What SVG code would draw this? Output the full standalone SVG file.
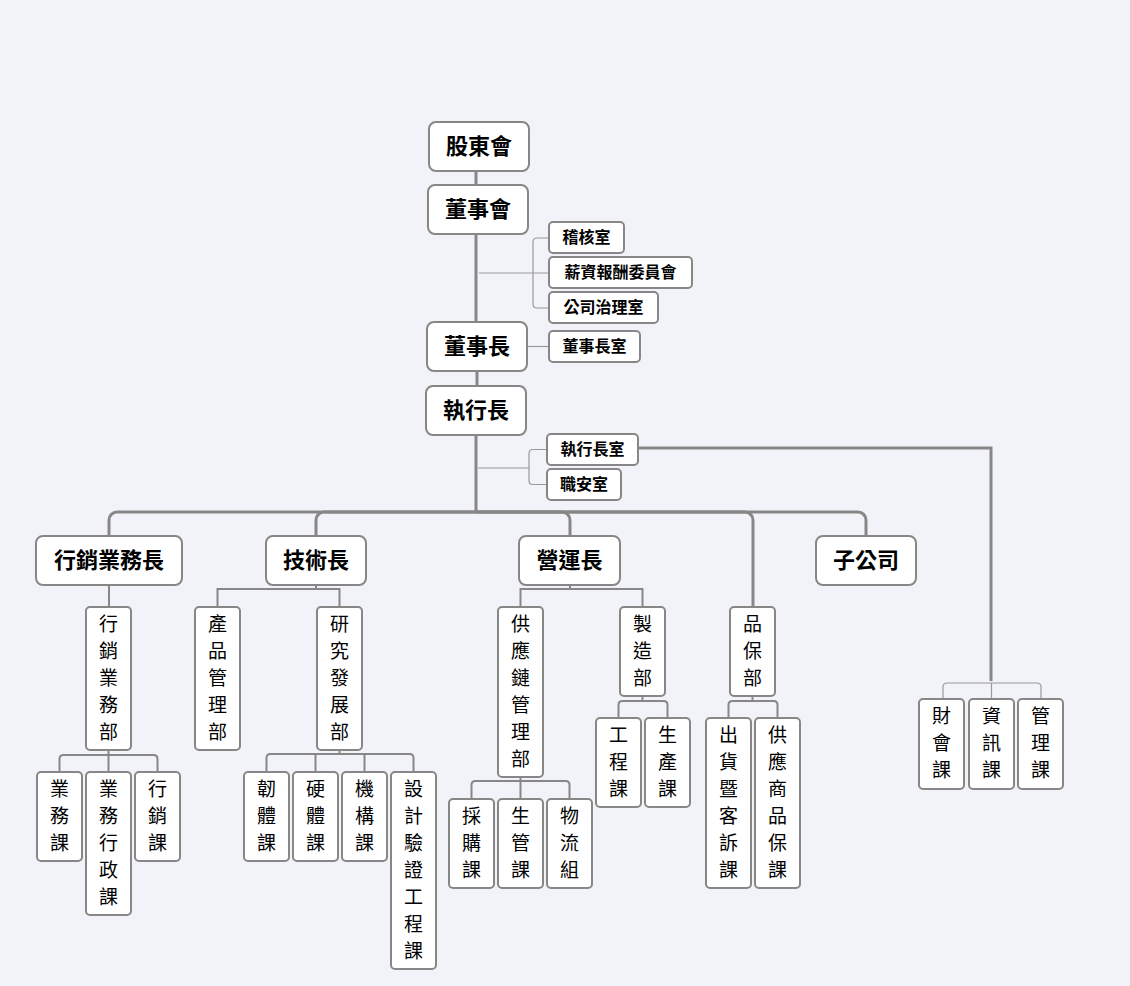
<svg xmlns="http://www.w3.org/2000/svg" width="1130" height="986" viewBox="0 0 1130 986">
<style>
.bg{fill:#f2f3f8}
.box{fill:#fff;stroke:#878787;stroke-width:2}
.t1{font-family:"Noto Sans CJK TC","Noto Sans CJK SC",sans-serif;font-size:22px;font-weight:bold;fill:#000;text-anchor:middle;dominant-baseline:central}
.t2{font-family:"Noto Sans CJK TC","Noto Sans CJK SC",sans-serif;font-size:16px;font-weight:bold;fill:#000;text-anchor:middle;dominant-baseline:central}
.t3{font-family:"Noto Sans CJK TC","Noto Sans CJK SC",sans-serif;font-size:19px;font-weight:normal;fill:#000;text-anchor:middle;dominant-baseline:central}
.thick{fill:none;stroke:#878787;stroke-width:3}
.mid{fill:none;stroke:#878787;stroke-width:2}
.thin{fill:none;stroke:#999;stroke-width:1.2}
</style>
<rect class="bg" x="0" y="0" width="1130" height="986"/>
<g id="connectors">
<path class="thick" d="M476,171 V185"/>
<path class="thick" d="M476,234 V322"/>
<path class="thick" d="M477,371 V386"/>
<path class="thick" d="M476,435 V512"/>
<path class="thick" d="M476,512 H117 A8,8 0 0 0 109,520 V536"/>
<path class="thick" d="M476,512 H324 A8,8 0 0 0 316,520 V536"/>
<path class="thick" d="M476,512 H562 A8,8 0 0 1 570,520 V536"/>
<path class="thick" d="M476,512 H745 A8,8 0 0 1 753,520 V607"/>
<path class="thick" d="M476,512 H858 A8,8 0 0 1 866,520 V536"/>
<path class="thick" d="M638,448 H991 V681"/>
<path class="thin" d="M479,273 H549"/>
<path class="thin" d="M549,238 H537 Q533,238 533,242 V304 Q533,308 537,308 H549"/>
<path class="thin" d="M527,346.5 H549"/>
<path class="thin" d="M478,468 H529"/>
<path class="thin" d="M547,449.5 H533 Q529,449.5 529,453.5 V480.5 Q529,484.5 533,484.5 H547"/>
<path class="thin" d="M943,699 V687 Q943,683 947,683 H1037 Q1041,683 1041,687 V699"/>
<path class="thin" d="M991.5,683 V699"/>
<path class="mid" d="M109,585 V607"/>
<path class="mid" d="M316,585 V589"/>
<path class="mid" d="M217.5,607 V589 H339.5 V607"/>
<path class="mid" d="M570,585 V589"/>
<path class="mid" d="M520.5,607 V589 H642.5 V607"/>
<path class="mid" d="M108.5,750 V772"/>
<path class="mid" d="M59.5,772 V759 Q59.5,755 63.5,755 H153.5 Q157.5,755 157.5,759 V772"/>
<path class="mid" d="M339.5,750 V754"/>
<path class="mid" d="M266.5,772 V758 Q266.5,754 270.5,754 H409.5 Q413.5,754 413.5,758 V772"/>
<path class="mid" d="M315.5,754 V772"/>
<path class="mid" d="M364.5,754 V772"/>
<path class="mid" d="M520.5,777 V799"/>
<path class="mid" d="M471.5,799 V785 Q471.5,781 475.5,781 H565.5 Q569.5,781 569.5,785 V799"/>
<path class="mid" d="M642.5,696 V701"/>
<path class="mid" d="M618.5,718 V705 Q618.5,701 622.5,701 H663.5 Q667.5,701 667.5,705 V718"/>
<path class="mid" d="M752.5,696 V701"/>
<path class="mid" d="M728.5,718 V705 Q728.5,701 732.5,701 H773.5 Q777.5,701 777.5,705 V718"/>
</g>
<g id="n-gudonghui"><rect class="box" x="429" y="122" width="100" height="49" rx="7"/><text class="t1" x="479" y="144">股東會</text></g>
<g id="n-dongshihui"><rect class="box" x="428" y="185" width="100" height="49" rx="7"/><text class="t1" x="478" y="207">董事會</text></g>
<g id="n-dongshizhang"><rect class="box" x="427" y="322" width="100" height="49" rx="7"/><text class="t1" x="477" y="344">董事長</text></g>
<g id="n-zhixingzhang"><rect class="box" x="426" y="386" width="100" height="49" rx="7"/><text class="t1" x="476" y="408">執行長</text></g>
<g id="n-jihe"><rect class="box" x="549" y="222" width="75" height="31" rx="4"/><text class="t2" x="586.5" y="236">稽核室</text></g>
<g id="n-xinchou"><rect class="box" x="549" y="257" width="143" height="31" rx="4"/><text class="t2" x="620.5" y="271">薪資報酬委員會</text></g>
<g id="n-zhili"><rect class="box" x="549" y="292" width="109" height="31" rx="4"/><text class="t2" x="603.5" y="306">公司治理室</text></g>
<g id="n-dszs"><rect class="box" x="549" y="331" width="91" height="31" rx="4"/><text class="t2" x="594.5" y="345">董事長室</text></g>
<g id="n-zxzs"><rect class="box" x="547" y="434" width="91" height="31" rx="4"/><text class="t2" x="592.5" y="448">執行長室</text></g>
<g id="n-zhian"><rect class="box" x="547" y="469" width="74" height="31" rx="4"/><text class="t2" x="584" y="483">職安室</text></g>
<g id="n-xiaoshouzhang"><rect class="box" x="36" y="536" width="146" height="49" rx="7"/><text class="t1" x="109" y="558">行銷業務長</text></g>
<g id="n-jishuzhang"><rect class="box" x="266" y="536" width="100" height="49" rx="7"/><text class="t1" x="316" y="558">技術長</text></g>
<g id="n-yingyunzhang"><rect class="box" x="519" y="536" width="101" height="49" rx="7"/><text class="t1" x="569.5" y="558">營運長</text></g>
<g id="n-zigongsi"><rect class="box" x="816" y="536" width="100" height="49" rx="7"/><text class="t1" x="866" y="558">子公司</text></g>
<g id="n-xsywb"><rect class="box" x="86" y="607" width="45" height="143" rx="4"/><text class="t3"><tspan x="108.5" y="621.5">行</tspan><tspan x="108.5" y="648.5">銷</tspan><tspan x="108.5" y="675.5">業</tspan><tspan x="108.5" y="702.5">務</tspan><tspan x="108.5" y="729.5">部</tspan></text></g>
<g id="n-cpglb"><rect class="box" x="195" y="607" width="45" height="143" rx="4"/><text class="t3"><tspan x="217.5" y="621.5">產</tspan><tspan x="217.5" y="648.5">品</tspan><tspan x="217.5" y="675.5">管</tspan><tspan x="217.5" y="702.5">理</tspan><tspan x="217.5" y="729.5">部</tspan></text></g>
<g id="n-yjfzb"><rect class="box" x="317" y="607" width="45" height="143" rx="4"/><text class="t3"><tspan x="339.5" y="621.5">研</tspan><tspan x="339.5" y="648.5">究</tspan><tspan x="339.5" y="675.5">發</tspan><tspan x="339.5" y="702.5">展</tspan><tspan x="339.5" y="729.5">部</tspan></text></g>
<g id="n-gyl"><rect class="box" x="498" y="607" width="45" height="170" rx="4"/><text class="t3"><tspan x="520.5" y="621.5">供</tspan><tspan x="520.5" y="648.5">應</tspan><tspan x="520.5" y="675.5">鏈</tspan><tspan x="520.5" y="702.5">管</tspan><tspan x="520.5" y="729.5">理</tspan><tspan x="520.5" y="756.5">部</tspan></text></g>
<g id="n-zzb"><rect class="box" x="620" y="607" width="45" height="89" rx="4"/><text class="t3"><tspan x="642.5" y="621.5">製</tspan><tspan x="642.5" y="648.5">造</tspan><tspan x="642.5" y="675.5">部</tspan></text></g>
<g id="n-pbb"><rect class="box" x="730" y="607" width="45" height="89" rx="4"/><text class="t3"><tspan x="752.5" y="621.5">品</tspan><tspan x="752.5" y="648.5">保</tspan><tspan x="752.5" y="675.5">部</tspan></text></g>
<g id="n-ywk"><rect class="box" x="37" y="772" width="45" height="89" rx="4"/><text class="t3"><tspan x="59.5" y="786.5">業</tspan><tspan x="59.5" y="813.5">務</tspan><tspan x="59.5" y="840.5">課</tspan></text></g>
<g id="n-ywxzk"><rect class="box" x="86" y="772" width="45" height="143" rx="4"/><text class="t3"><tspan x="108.5" y="786.5">業</tspan><tspan x="108.5" y="813.5">務</tspan><tspan x="108.5" y="840.5">行</tspan><tspan x="108.5" y="867.5">政</tspan><tspan x="108.5" y="894.5">課</tspan></text></g>
<g id="n-xxk"><rect class="box" x="135" y="772" width="45" height="89" rx="4"/><text class="t3"><tspan x="157.5" y="786.5">行</tspan><tspan x="157.5" y="813.5">銷</tspan><tspan x="157.5" y="840.5">課</tspan></text></g>
<g id="n-rtk"><rect class="box" x="244" y="772" width="45" height="89" rx="4"/><text class="t3"><tspan x="266.5" y="786.5">韌</tspan><tspan x="266.5" y="813.5">體</tspan><tspan x="266.5" y="840.5">課</tspan></text></g>
<g id="n-ytk"><rect class="box" x="293" y="772" width="45" height="89" rx="4"/><text class="t3"><tspan x="315.5" y="786.5">硬</tspan><tspan x="315.5" y="813.5">體</tspan><tspan x="315.5" y="840.5">課</tspan></text></g>
<g id="n-jgk"><rect class="box" x="342" y="772" width="45" height="89" rx="4"/><text class="t3"><tspan x="364.5" y="786.5">機</tspan><tspan x="364.5" y="813.5">構</tspan><tspan x="364.5" y="840.5">課</tspan></text></g>
<g id="n-sjyz"><rect class="box" x="391" y="772" width="45" height="197" rx="4"/><text class="t3"><tspan x="413.5" y="786.5">設</tspan><tspan x="413.5" y="813.5">計</tspan><tspan x="413.5" y="840.5">驗</tspan><tspan x="413.5" y="867.5">證</tspan><tspan x="413.5" y="894.5">工</tspan><tspan x="413.5" y="921.5">程</tspan><tspan x="413.5" y="948.5">課</tspan></text></g>
<g id="n-cgk"><rect class="box" x="449" y="799" width="45" height="89" rx="4"/><text class="t3"><tspan x="471.5" y="813.5">採</tspan><tspan x="471.5" y="840.5">購</tspan><tspan x="471.5" y="867.5">課</tspan></text></g>
<g id="n-sgk"><rect class="box" x="498" y="799" width="45" height="89" rx="4"/><text class="t3"><tspan x="520.5" y="813.5">生</tspan><tspan x="520.5" y="840.5">管</tspan><tspan x="520.5" y="867.5">課</tspan></text></g>
<g id="n-wlz"><rect class="box" x="547" y="799" width="45" height="89" rx="4"/><text class="t3"><tspan x="569.5" y="813.5">物</tspan><tspan x="569.5" y="840.5">流</tspan><tspan x="569.5" y="867.5">組</tspan></text></g>
<g id="n-gck"><rect class="box" x="596" y="718" width="45" height="89" rx="4"/><text class="t3"><tspan x="618.5" y="732.5">工</tspan><tspan x="618.5" y="759.5">程</tspan><tspan x="618.5" y="786.5">課</tspan></text></g>
<g id="n-sck"><rect class="box" x="645" y="718" width="45" height="89" rx="4"/><text class="t3"><tspan x="667.5" y="732.5">生</tspan><tspan x="667.5" y="759.5">產</tspan><tspan x="667.5" y="786.5">課</tspan></text></g>
<g id="n-chks"><rect class="box" x="706" y="718" width="45" height="170" rx="4"/><text class="t3"><tspan x="728.5" y="732.5">出</tspan><tspan x="728.5" y="759.5">貨</tspan><tspan x="728.5" y="786.5">暨</tspan><tspan x="728.5" y="813.5">客</tspan><tspan x="728.5" y="840.5">訴</tspan><tspan x="728.5" y="867.5">課</tspan></text></g>
<g id="n-gyspb"><rect class="box" x="755" y="718" width="45" height="170" rx="4"/><text class="t3"><tspan x="777.5" y="732.5">供</tspan><tspan x="777.5" y="759.5">應</tspan><tspan x="777.5" y="786.5">商</tspan><tspan x="777.5" y="813.5">品</tspan><tspan x="777.5" y="840.5">保</tspan><tspan x="777.5" y="867.5">課</tspan></text></g>
<g id="n-chk"><rect class="box" x="919" y="699" width="45" height="90" rx="4"/><text class="t3"><tspan x="941.5" y="713.5">財</tspan><tspan x="941.5" y="740.5">會</tspan><tspan x="941.5" y="767.5">課</tspan></text></g>
<g id="n-zxk"><rect class="box" x="969" y="699" width="45" height="90" rx="4"/><text class="t3"><tspan x="991.5" y="713.5">資</tspan><tspan x="991.5" y="740.5">訊</tspan><tspan x="991.5" y="767.5">課</tspan></text></g>
<g id="n-glk"><rect class="box" x="1018" y="699" width="45" height="90" rx="4"/><text class="t3"><tspan x="1040.5" y="713.5">管</tspan><tspan x="1040.5" y="740.5">理</tspan><tspan x="1040.5" y="767.5">課</tspan></text></g>
</svg>
